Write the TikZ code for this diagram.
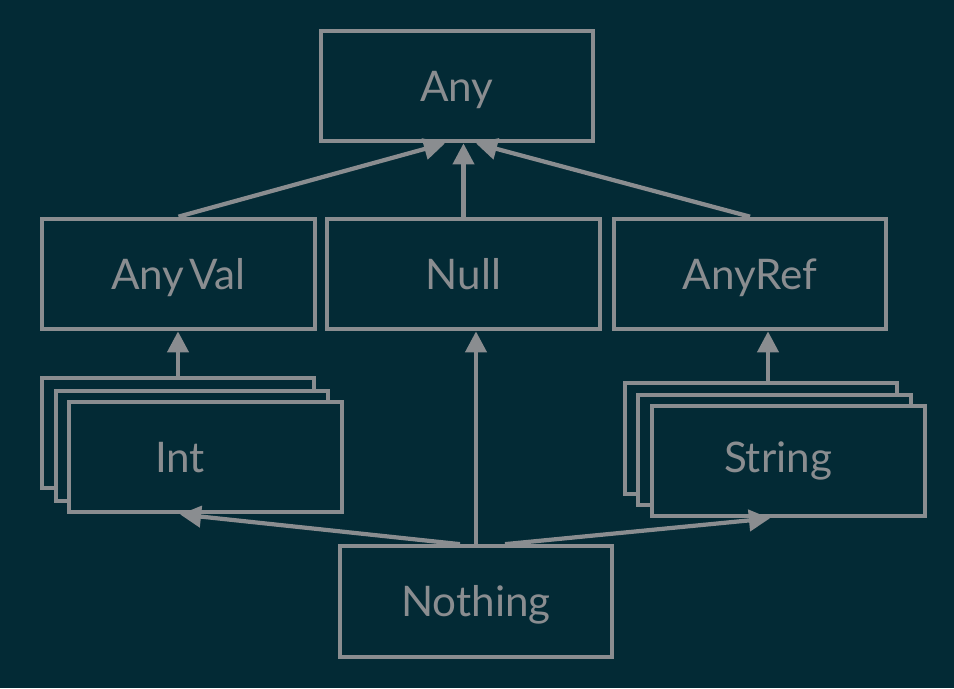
\documentclass[tikz,border=0pt]{standalone}
\usepackage{fontspec}
\setmainfont{Lato}
\usetikzlibrary{arrows.meta}
\definecolor{bgcol}{RGB}{3,42,53}
\definecolor{linecol}{RGB}{138,141,144}
\begin{document}
\begin{tikzpicture}[font=\fontsize{24}{28}\selectfont, >={Triangle[length=12pt,width=12pt]},
  line width=2.4pt, draw=linecol, text=linecol,
  cls/.style={draw=linecol, fill=bgcol, minimum width=5.45cm, minimum height=2.21cm, inner sep=0pt,
    text height=0.6cm, text depth=0pt},
  lbl/.style={inner sep=0pt, text height=0.6cm, text depth=0pt}]
  % background
  \fill[bgcol] (0,0) rectangle (19.08,-13.76);
  \useasboundingbox (0,0) rectangle (19.08,-13.76);
  % top
  \node[cls] (any) at (9.14,-1.72) {Any};
  % second row
  \node[cls] (anyval) at (3.57,-5.48) {Any\hspace{0.12em}Val};
  \node[cls] (null)   at (9.27,-5.48) {Null};
  \node[cls] (anyref) at (15.0,-5.48) {AnyRef};
  % value types (stacked)
  \node[cls] (intback) at (3.56,-8.66) {};
  \node[cls] (intmid)  at (3.84,-8.92) {};
  \node[cls] (int)     at (4.11,-9.14) {};
  \node[lbl] (inttxt)  at (3.6,-9.14) {Int};
  % reference types (stacked)
  \node[cls] (strback) at (15.22,-8.77) {};
  \node[cls] (strmid)  at (15.49,-9.0) {};
  \node[cls] (str)     at (15.77,-9.22) {};
  \node[lbl] (strtxt)  at (15.56,-9.14) {String};
  % bottom
  \node[cls] (nothing) at (9.52,-12.03) {Nothing};
  % subtype arrows
  \draw[->] (anyval.north) -- ([xshift=-0.24cm]any.south);
  \draw[->] (null.north) -- (null.north |- any.south);
  \draw[->] (anyref.north) -- ([xshift=0.38cm]any.south);
  \draw[->] (intback.north) -- (intback.north |- anyval.south);
  \draw[->] ([xshift=0.14cm]strback.north) -- ([xshift=0.14cm]strback.north |- anyref.south);
  \draw[->] (nothing.north) -- (nothing.north |- null.south);
  \draw[->] ([xshift=-0.32cm]nothing.north) -- (inttxt |- int.south);
  \draw[->] ([xshift=0.58cm]nothing.north) -- ([xshift=-0.16cm]strtxt |- str.south);
\end{tikzpicture}
\end{document}
